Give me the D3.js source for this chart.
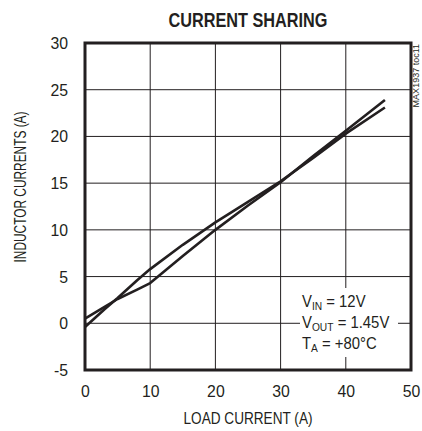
<!DOCTYPE html>
<html><head><meta charset="utf-8">
<script src="https://cdn.jsdelivr.net/npm/d3@7/dist/d3.min.js"></script>
<style>
body{margin:0;background:#fff;}
text{font-family:"Liberation Sans",Arial,sans-serif;fill:#231f20;}
</style></head>
<body><svg id="c" width="422" height="431"></svg>
<script>
const title = "CURRENT SHARING";
const xLabel = "LOAD CURRENT (A)";
const yLabel = "INDUCTOR CURRENTS (A)";
const sideNote = "MAX1937 toc11";
const xTicks = [0, 10, 20, 30, 40, 50];
const yTicks = [-5, 0, 5, 10, 15, 20, 25, 30];
const loadCurrent = [0, 3, 5, 8, 10, 15, 20, 25, 30, 35, 40, 46];
const inductor1 = [0.5, 1.75, 2.6, 3.6, 4.3, 7.2, 10.0, 12.6, 15.1, 17.9, 20.6, 23.9];
const inductor2 = [-0.4, 1.5, 2.7, 4.6, 5.8, 8.4, 10.8, 13.0, 15.2, 17.7, 20.3, 23.1];

const svg = d3.select("#c");
const L = 85, R = 411, T = 43, B = 370;
const x = d3.scaleLinear().domain([0, 50]).range([L, R]);
const y = d3.scaleLinear().domain([-5, 30]).range([B, T]);
const ink = "#231f20";

// grid
svg.append("g").selectAll("line").data(xTicks.slice(1, -1)).join("line")
  .attr("x1", d => x(d)).attr("x2", d => x(d)).attr("y1", T).attr("y2", B)
  .attr("stroke", ink).attr("stroke-width", 1);
svg.append("g").selectAll("line").data(yTicks.slice(1, -1)).join("line")
  .attr("y1", d => y(d)).attr("y2", d => y(d)).attr("x1", L).attr("x2", R)
  .attr("stroke", ink).attr("stroke-width", 1);

// data lines
const line = d3.line().x((d, i) => x(loadCurrent[i])).y(d => y(d));
[inductor1, inductor2].forEach(s => {
  svg.append("path").datum(s).attr("d", line).attr("fill", "none")
    .attr("stroke", ink).attr("stroke-width", 2.6).attr("stroke-linejoin", "round");
});

// annotation box
svg.append("rect").attr("x", 300).attr("y", 288).attr("width", 98).attr("height", 69).attr("fill", "#fff");
const ann = svg.append("g").attr("font-size", 16);
function sub(t, main, s, rest) {
  t.append("tspan").text(main);
  t.append("tspan").attr("font-size", 11).attr("dy", 3).text(s);
  t.append("tspan").attr("dy", -3).text(rest);
}
sub(ann.append("text").attr("transform", "translate(302,307) scale(0.93,1)"), "V", "IN", " = 12V");
sub(ann.append("text").attr("transform", "translate(302,328) scale(0.93,1)"), "V", "OUT", " = 1.45V");
sub(ann.append("text").attr("transform", "translate(302,349) scale(0.93,1)"), "T", "A", " = +80°C");

// frame
svg.append("rect").attr("x", L).attr("y", T).attr("width", R - L).attr("height", B - T)
  .attr("fill", "none").attr("stroke", ink).attr("stroke-width", 3);

// axes labels
const xa = d3.axisBottom(x).tickValues(xTicks).tickSize(0).tickPadding(15).tickFormat(d => String(d));
const gx = svg.append("g").attr("transform", `translate(0,${B})`).call(xa);
gx.select(".domain").remove();
gx.selectAll("text").attr("font-size", 17).attr("fill", ink).style("font-family", null)
  .attr("transform", "scale(0.93,1)");
const ya = d3.axisLeft(y).tickValues(yTicks).tickSize(0).tickPadding(17).tickFormat(d => String(d));
const gy = svg.append("g").attr("transform", `translate(${L},0)`).call(ya);
gy.select(".domain").remove();
gy.selectAll("text").attr("font-size", 17).attr("fill", ink).style("font-family", null)
  .attr("transform", "scale(0.93,1)").attr("x", -17 / 0.93);

svg.append("text").attr("x", 248).attr("y", 27).attr("text-anchor", "middle")
  .attr("font-size", 20).attr("font-weight", "bold")
  .attr("textLength", 159).attr("lengthAdjust", "spacingAndGlyphs").text(title);
svg.append("text").attr("x", 248).attr("y", 424).attr("text-anchor", "middle")
  .attr("font-size", 17).attr("textLength", 129).attr("lengthAdjust", "spacingAndGlyphs").text(xLabel);
svg.append("text").attr("transform", "translate(26,187) rotate(-90)").attr("text-anchor", "middle")
  .attr("font-size", 16).attr("textLength", 151).attr("lengthAdjust", "spacingAndGlyphs").text(yLabel);
svg.append("text").attr("transform", "translate(419,44) rotate(-90)").attr("text-anchor", "end")
  .attr("font-size", 9).text(sideNote);
</script></body></html>
